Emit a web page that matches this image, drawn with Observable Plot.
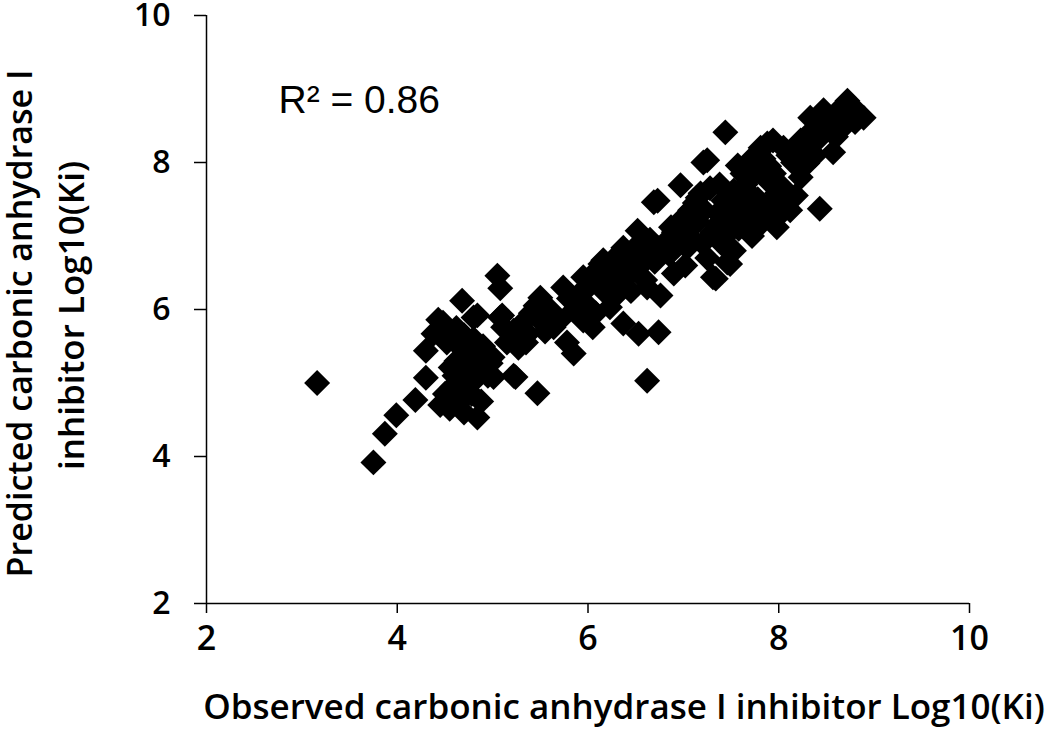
<!DOCTYPE html>
<html>
<head>
<meta charset="utf-8">
<script src="https://cdn.jsdelivr.net/npm/d3@7"></script>
<script src="https://cdn.jsdelivr.net/npm/@observablehq/plot@0.6"></script>
<style>
  html, body { margin: 0; padding: 0; background: #fff; }
  #chart svg { display: block; }
</style>
</head>
<body>
<div id="chart"></div>
<script>
// Observed / predicted carbonic anhydrase I inhibitor Log10(Ki)
const observed = [
  3.16,3.75,3.87,3.99,4.19,4.30,4.30,4.38,4.43,4.68,
  4.45,4.50,4.55,4.58,4.60,4.62,4.65,4.66,4.70,4.72,4.74,4.75,4.78,4.80,4.82,4.84,4.85,4.88,4.90,4.91,4.95,4.98,4.56,4.59,4.52,4.48,4.62,4.70,
  5.05,5.08,4.84,4.80,5.08,5.10,5.11,5.01,5.00,5.24,5.22,5.47,5.22,5.27,5.37,5.47,5.50,5.64,5.15,5.30,5.40,5.55,5.45,5.60,5.35,
  5.74,5.85,5.95,6.13,6.16,6.05,5.85,5.70,5.80,5.90,6.00,6.06,6.16,6.23,5.95,6.10,6.20,5.78,6.00,5.88,6.08,
  6.37,6.52,6.69,6.73,6.37,6.53,6.74,6.62,6.76,6.90,6.87,6.73,6.30,6.35,6.40,6.45,6.50,6.55,6.60,6.65,6.70,6.80,6.85,6.95,6.97,6.30,6.45,6.58,6.28,6.90,6.62,
  7.04,7.07,7.15,7.18,7.21,7.25,7.25,7.31,7.34,7.42,7.44,7.49,7.46,7.36,7.05,7.10,7.15,7.20,7.30,7.35,7.40,7.45,7.00,7.12,7.28,7.38,7.02,7.22,7.48,
  7.53,7.53,7.57,7.67,7.70,7.74,7.81,7.88,7.88,7.94,7.98,7.98,7.98,7.60,7.65,7.72,7.78,7.85,7.90,7.55,7.62,7.75,7.80,7.92,7.68,7.84,7.58,7.95,
  8.12,8.15,8.23,8.23,8.30,8.33,8.33,8.43,8.47,8.57,8.72,8.89,8.05,8.10,8.20,8.40,8.50,8.55,8.62,8.65,8.78,8.80,8.05,8.18,8.28,8.38,8.02,8.60,8.70
];
const predicted = [
  5.00,3.92,4.31,4.56,4.77,5.07,5.44,5.67,5.86,6.12,
  4.70,4.85,4.65,4.95,5.10,5.30,5.50,4.75,4.60,5.00,5.44,5.20,4.85,5.60,5.05,4.53,5.30,4.75,5.50,5.40,5.10,5.27,5.21,4.80,5.55,5.82,5.75,5.65,
  6.46,6.29,5.92,5.89,5.89,5.92,5.76,5.08,5.35,5.08,5.10,4.86,5.71,5.48,5.67,5.89,6.16,5.76,5.55,5.80,5.95,5.70,6.05,6.00,5.55,
  6.30,5.99,6.44,6.62,6.26,5.76,5.40,5.85,6.15,6.20,6.05,6.49,6.67,6.03,5.85,6.35,6.45,5.55,6.30,6.05,5.95,
  6.84,7.07,7.46,7.48,5.81,5.67,5.69,5.03,6.19,6.49,7.12,6.84,6.55,6.35,6.70,6.50,6.85,6.60,6.40,6.95,6.65,6.90,6.75,6.95,7.69,6.20,6.25,6.80,6.70,7.05,6.30,
  6.84,7.35,7.52,7.58,8.00,8.03,6.70,6.44,6.42,7.48,8.41,6.62,6.64,7.31,7.10,6.95,7.20,6.90,7.05,7.15,6.90,7.25,7.25,7.45,7.65,7.70,6.60,7.35,7.05,
  7.62,6.80,7.96,7.44,8.03,7.31,8.20,8.26,7.76,8.30,7.58,7.25,7.12,7.20,7.70,7.00,7.50,7.35,7.95,7.45,7.85,7.85,7.15,7.45,7.60,8.05,7.10,7.85,
  7.35,8.00,7.80,8.30,7.99,8.41,8.61,7.37,8.71,8.14,8.84,8.61,7.65,8.10,8.15,8.30,8.50,8.60,8.70,8.45,8.75,8.55,8.20,7.55,8.20,8.10,7.45,8.35,8.60
];
const xTicks = [2, 4, 6, 8, 10];
const yTicks = [2, 4, 6, 8, 10];
const xTitle = "Observed carbonic anhydrase I inhibitor Log10(Ki)";
const yTitleLine1 = "Predicted carbonic anhydrase I";
const yTitleLine2 = "inhibitor Log10(Ki)";
const rSquared = "R\u00B2 = 0.86";

const points = observed.map((o, i) => ({observed: o, predicted: predicted[i]}));

const font = "'Open Sans', 'DejaVu Sans', sans-serif";

const chart = Plot.plot({
  width: 1050,
  height: 743,
  marginLeft: 206,
  marginRight: 81,
  marginTop: 15,
  marginBottom: 140,
  style: {fontFamily: font, color: "#000", background: "#fff"},
  x: {domain: [2, 10]},
  y: {domain: [2, 10]},
  marks: [
    Plot.ruleY([2], {stroke: "#000", strokeWidth: 1.5}),
    Plot.ruleX([2], {stroke: "#000", strokeWidth: 1.5}),
    Plot.axisX({ticks: xTicks, tickSize: 10, tickPadding: 12, fontSize: 34, fontWeight: 600, label: null, stroke: "#000", strokeWidth: 1.5}),
    Plot.axisY({ticks: yTicks, tickSize: 12, tickPadding: 24, fontSize: 32, fontWeight: 600, label: null, stroke: "#000", strokeWidth: 1.5}),
    Plot.dot(points, {x: "observed", y: "predicted", symbol: "diamond2", r: 11.7, fill: "#000"}),
    Plot.text([xTitle], {frameAnchor: "bottom", textAnchor: "middle", dx: 36, dy: 115, fontSize: 35, fontWeight: 600, fill: "#000"}),
    Plot.text([yTitleLine1], {frameAnchor: "left", textAnchor: "middle", rotate: -90, dx: -185, dy: 14, fontSize: 34, fontWeight: 600, fill: "#000"}),
    Plot.text([yTitleLine2], {frameAnchor: "left", textAnchor: "middle", rotate: -90, dx: -134, dy: 6, fontSize: 35, fontWeight: 600, fill: "#000"}),
    Plot.text([rSquared], {frameAnchor: "top-left", textAnchor: "start", lineAnchor: "middle", dx: 72, dy: 85, fontSize: 39, fontFamily: "'Liberation Sans', Arial, sans-serif", fill: "#000"})
  ]
});
document.getElementById("chart").appendChild(chart);
</script>
</body>
</html>
